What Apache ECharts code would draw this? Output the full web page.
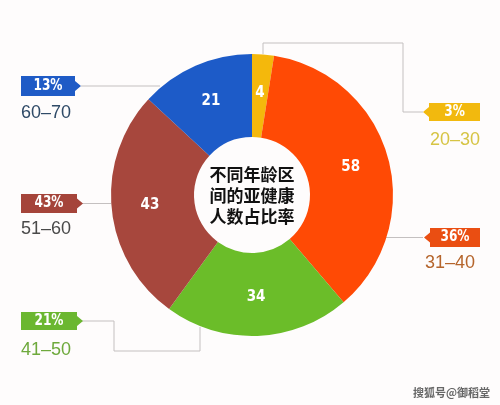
<!DOCTYPE html>
<html>
<head>
<meta charset="utf-8">
<script src="https://cdn.jsdelivr.net/npm/echarts@6/dist/echarts.min.js"></script>
<style>
html,body{margin:0;padding:0;background:#fefcfc;}
#chart{width:500px;height:405px;}
</style>
</head>
<body>
<div id="chart"></div>
<script>
// ---- data ----
const ages = ['20–30', '31–40', '41–50', '51–60', '60–70'];
const values = [4, 58, 34, 43, 21];
const pctLabels = ['3%', '36%', '21%', '43%', '13%'];
const centerTitle = ['不同年龄区', '间的亚健康', '人数占比率'];
const watermark = '搜狐号@御稻堂';

// ---- styles ----
const sliceColors = ['#F4B80C', '#FF4A05', '#6BBD29', '#A7473D', '#1D5BC8'];
const boxColors = ['#F2B90E', '#EA4E12', '#6BB730', '#A5443A', '#1F5BC6'];
const ageColors = ['#D6C444', '#B5652C', '#6EA93C', '#4A4A4A', '#2F4A67'];
const lineColor = '#c4c0c0';
const numFont = '"DejaVu Sans Condensed", "Liberation Sans Narrow", sans-serif';

// callout layout: side, box rect [x0,y0,x1,y1], connector points, age text pos
const callouts = [
  {side: 'R', box: [429, 103, 480, 121], line: [[423,112],[403,112],[403,43],[263,43],[263,54]], age: [430, 140]},
  {side: 'R', box: [430, 228, 480, 247], line: [[423,237.5],[385,237.5]], age: [425, 263]},
  {side: 'L', box: [21, 312, 77, 330], line: [[82,321],[114,321],[114,351],[200,351],[200,327]], age: [21, 350]},
  {side: 'L', box: [21, 194, 77, 213], line: [[82,203.5],[111,203.5]], age: [21, 229]},
  {side: 'L', box: [21, 76, 75, 96], line: [[81,86],[160,86]], age: [21, 113]}
];

const graphics = [];
callouts.forEach((c, i) => {
  const [x0, y0, x1, y1] = c.box;
  const ym = (y0 + y1) / 2;
  let pts;
  if (c.side === 'L') {
    pts = [[x0,y0],[x1,y0],[x1,ym-5],[x1+6,ym],[x1,ym+5],[x1,y1],[x0,y1]];
  } else {
    pts = [[x0,y0],[x1,y0],[x1,y1],[x0,y1],[x0,ym+5],[x0-6,ym],[x0,ym-5]];
  }
  graphics.push({type: 'polyline', shape: {points: c.line}, style: {stroke: lineColor, lineWidth: 1, fill: null}, z: 1});
  graphics.push({type: 'polygon', shape: {points: pts}, style: {fill: boxColors[i]}, z: 2});
  graphics.push({type: 'text', x: (x0 + x1) / 2, y: ym, z: 3, scaleX: 0.9,
    style: {text: pctLabels[i], fill: '#fff', font: 'bold 15px ' + numFont, align: 'center', verticalAlign: 'middle'}});
  graphics.push({type: 'text', x: c.age[0], y: c.age[1], z: 3,
    style: {text: ages[i], fill: ageColors[i], font: '18px "Liberation Sans", Arial, sans-serif', align: 'left', verticalAlign: 'middle'}});
});
graphics.push({type: 'text', x: 252, y: 196, z: 5,
  style: {text: centerTitle.join('\n'), fill: '#111', font: 'bold 17px "Noto Sans CJK SC", sans-serif', lineHeight: 21, align: 'center', verticalAlign: 'middle'}});
graphics.push({type: 'text', x: 490, y: 393, z: 5,
  style: {text: watermark, fill: '#666', font: 'bold 11px "Noto Sans CJK SC", sans-serif', align: 'right', verticalAlign: 'middle'}});

const chart = echarts.init(document.getElementById('chart'), null, {renderer: 'canvas'});
chart.setOption({
  backgroundColor: '#fefcfc',
  animation: false,
  series: [{
    type: 'pie',
    center: [252, 195],
    radius: [58, 141],
    startAngle: 90,
    clockwise: true,
    avoidLabelOverlap: false,
    data: values.map((v, i) => ({name: ages[i], value: v, itemStyle: {color: sliceColors[i]}})),
    label: {
      show: true,
      position: 'inside',
      formatter: '{c}',
      color: '#fff',
      fontSize: 15,
      fontWeight: 'bold',
      fontFamily: numFont
    },
    labelLine: {show: false},
    emphasis: {disabled: true}
  }],
  graphic: graphics
});
</script>
</body>
</html>
